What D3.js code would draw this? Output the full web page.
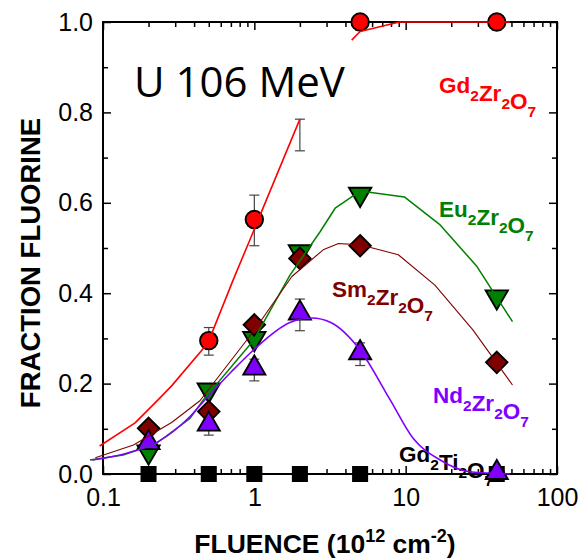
<!DOCTYPE html>
<html>
<head>
<meta charset="utf-8">
<script src="https://cdn.jsdelivr.net/npm/d3@7"></script>
<style>
  html, body { margin: 0; padding: 0; background: #fff; }
  svg { display: block; }
</style>
</head>
<body>
<svg id="chart" width="582" height="558"></svg>
<script>
// ---- data -------------------------------------------------------------
// Fluence in units of 1e12 ions/cm^2, fraction of fluorite phase
const xTickValues = [0.1, 1, 10, 100];
const xTickLabels = ["0.1", "1", "10", "100"];
const yTickValues = [0, 0.2, 0.4, 0.6, 0.8, 1.0];
const yTickLabels = ["0.0", "0.2", "0.4", "0.6", "0.8", "1.0"];

// Gd2Zr2O7 (measured points)
const gdZrFluence = [0.5, 1, 5, 40];
const gdZrFrac = [0.295, 0.563, 1.0, 1.0];
// Gd2Zr2O7 error bars
const gdZrErrFluence = [0.5, 1, 2, 5, 40];
const gdZrErrLow = [0.263, 0.505, 0.715, 0.982, 0.982];
const gdZrErrHigh = [0.324, 0.617, 0.785, 1.0, 1.0];
// Gd2Zr2O7 model curve (two branches)
const gdZrFitA = [[0.095, 0.062], [0.163, 0.113], [0.231, 0.164], [0.284, 0.195], [0.494, 0.29], [0.726, 0.43], [0.94, 0.52], [1.2, 0.606], [2.0, 0.785]];
const gdZrFitB = [[4.4, 0.96], [5, 0.979], [9.1, 1.0], [49, 1.0]];

// Eu2Zr2O7
const euZrFluence = [0.2, 0.5, 1, 2, 5, 40];
const euZrFrac = [0.049, 0.186, 0.30, 0.492, 0.619, 0.392];
const euZrFit = [[0.082, 0.031], [0.136, 0.042], [0.226, 0.068], [0.376, 0.123], [0.46, 0.164], [0.99, 0.296], [1.72, 0.44], [2.72, 0.536], [3.42, 0.588], [5, 0.626], [9.8, 0.613], [16.9, 0.551], [29.6, 0.459], [50.8, 0.337]];

// Sm2Zr2O7
const smZrFluence = [0.2, 0.5, 1, 2, 5, 40];
const smZrFrac = [0.101, 0.138, 0.33, 0.477, 0.505, 0.247];
const smZrFit = [[0.089, 0.036], [0.159, 0.064], [0.284, 0.114], [0.437, 0.162], [1.0, 0.318], [1.77, 0.437], [2.85, 0.496], [3.6, 0.51], [5, 0.507], [8.94, 0.485], [15.6, 0.418], [27.8, 0.319], [50.8, 0.197]];

// Nd2Zr2O7
const ndZrFluence = [0.2, 0.5, 1, 2, 5, 40];
const ndZrFrac = [0.069, 0.11, 0.234, 0.356, 0.268, 0.003];
const ndZrErrFluence = [0.5, 1, 2, 5];
const ndZrErrLow = [0.086, 0.206, 0.317, 0.24];
const ndZrErrHigh = [0.134, 0.254, 0.387, 0.29];
const ndZrFit = [[0.085, 0.031], [0.14, 0.045], [0.23, 0.071], [0.37, 0.125], [0.46, 0.16], [0.7, 0.225], [1.0, 0.276], [1.72, 0.335], [2.4, 0.345], [3.2, 0.335], [5, 0.274], [7.9, 0.164], [11.2, 0.079], [16.9, 0.031], [26.4, 0.005], [49, 0.0]];

// Gd2Ti2O7
const gdTiFluence = [0.2, 0.5, 1, 2, 5, 40];
const gdTiFrac = [0, 0, 0, 0, 0, 0];

// ---- layout -----------------------------------------------------------
const svg = d3.select("#chart");
const L = 103, R = 557, T = 22, B = 474;

const x = d3.scaleLog().domain([0.1, 100]).range([L, R]);
const y = d3.scaleLinear().domain([0, 1]).range([B, T]);

const tickFont = "'Liberation Sans', Arial, sans-serif";
const labelFont = "'Liberation Sans', Arial, sans-serif";
const COL = { red: "#ff0000", green: "#008000", sm: "#800000", nd: "#8000ff" };

// minor tick positions
const xMinor = [];
[0.1, 1, 10].forEach(d => { for (let k = 2; k <= 9; k++) xMinor.push(d * k); });
const yMinor = [0.1, 0.3, 0.5, 0.7, 0.9];

function styleAxis(g) {
  g.select(".domain").remove();
  g.selectAll(".tick line").attr("stroke", "#000").attr("stroke-width", 1.5);
  g.selectAll(".tick text").attr("font-family", tickFont).attr("font-size", 25).attr("fill", "#000");
}

// bottom axis with labels (ticks point inward)
svg.append("g").attr("transform", `translate(0,${B})`)
  .call(d3.axisBottom(x).tickValues(xTickValues).tickFormat((d, i) => xTickLabels[i]).tickSizeInner(-8).tickSizeOuter(0).tickPadding(14))
  .call(styleAxis);
svg.append("g").attr("transform", `translate(0,${B})`)
  .call(d3.axisBottom(x).tickValues(xMinor).tickFormat("").tickSizeInner(-5).tickSizeOuter(0))
  .call(styleAxis);
// top axis
svg.append("g").attr("transform", `translate(0,${T})`)
  .call(d3.axisTop(x).tickValues(xTickValues).tickFormat("").tickSizeInner(-8).tickSizeOuter(0))
  .call(styleAxis);
svg.append("g").attr("transform", `translate(0,${T})`)
  .call(d3.axisTop(x).tickValues(xMinor).tickFormat("").tickSizeInner(-5).tickSizeOuter(0))
  .call(styleAxis);
// left axis with labels
svg.append("g").attr("transform", `translate(${L},0)`)
  .call(d3.axisLeft(y).tickValues(yTickValues).tickFormat((d, i) => yTickLabels[i]).tickSizeInner(-8).tickSizeOuter(0).tickPadding(10))
  .call(styleAxis);
svg.append("g").attr("transform", `translate(${L},0)`)
  .call(d3.axisLeft(y).tickValues(yMinor).tickFormat("").tickSizeInner(-5).tickSizeOuter(0))
  .call(styleAxis);
// right axis
svg.append("g").attr("transform", `translate(${R},0)`)
  .call(d3.axisRight(y).tickValues(yTickValues).tickFormat("").tickSizeInner(-8).tickSizeOuter(0))
  .call(styleAxis);
svg.append("g").attr("transform", `translate(${R},0)`)
  .call(d3.axisRight(y).tickValues(yMinor).tickFormat("").tickSizeInner(-5).tickSizeOuter(0))
  .call(styleAxis);

// ---- series labels (drawn beneath the marks) -------------------------------
// chemical formula: each part is [element, subscript]
function formula(parts, px, py, color) {
  const t = svg.append("text").attr("x", px).attr("y", py)
    .attr("font-family", labelFont).attr("font-weight", "bold").attr("font-size", 22.5).attr("fill", color);
  parts.forEach(([el, sub]) => {
    t.append("tspan").text(el);
    t.append("tspan").attr("font-size", 15.5).attr("dy", 8).text(sub);
    t.append("tspan").attr("dy", -8).text("");
  });
}
formula([["Gd", "2"], ["Zr", "2"], ["O", "7"]], 439, 93, COL.red);
formula([["Eu", "2"], ["Zr", "2"], ["O", "7"]], 439, 217, COL.green);
formula([["Sm", "2"], ["Zr", "2"], ["O", "7"]], 332, 297, COL.sm);
formula([["Nd", "2"], ["Zr", "2"], ["O", "7"]], 433, 403, COL.nd);
formula([["Gd", "2"], ["Ti", "2"], ["O", "7"]], 399, 462, "#000");

// frame
svg.append("rect").attr("x", L).attr("y", T).attr("width", R - L).attr("height", B - T)
  .attr("fill", "none").attr("stroke", "#000").attr("stroke-width", 2);

// ---- error bars ---------------------------------------------------------
function errorBars(xs, lo, hi) {
  const g = svg.append("g").attr("stroke", "#444").attr("stroke-width", 1.2).attr("fill", "none");
  xs.forEach((xv, i) => {
    const cx = x(xv);
    g.append("line").attr("x1", cx).attr("x2", cx).attr("y1", y(lo[i])).attr("y2", y(hi[i]));
    g.append("line").attr("x1", cx - 5).attr("x2", cx + 5).attr("y1", y(lo[i])).attr("y2", y(lo[i]));
    g.append("line").attr("x1", cx - 5).attr("x2", cx + 5).attr("y1", y(hi[i])).attr("y2", y(hi[i]));
  });
}
errorBars(gdZrErrFluence, gdZrErrLow, gdZrErrHigh);
errorBars(ndZrErrFluence, ndZrErrLow, ndZrErrHigh);

// ---- markers --------------------------------------------------------------
function markers(xs, ys, type, size, fill) {
  svg.append("g").selectAll("path").data(xs).join("path")
    .attr("transform", (d, i) => `translate(${x(d)},${y(ys[i])})`)
    .attr("d", d3.symbol().type(type).size(size))
    .attr("fill", fill).attr("stroke", "#000").attr("stroke-width", 1.9);
}
// inverted triangle symbol
const triangleDown = {
  draw(ctx, size) {
    const s = Math.sqrt(size / (Math.sqrt(3) / 4));
    const h = s * Math.sqrt(3) / 2;
    ctx.moveTo(-s / 2, -h / 3);
    ctx.lineTo(s / 2, -h / 3);
    ctx.lineTo(0, 2 * h / 3);
    ctx.closePath();
  }
};
const triangleUp = {
  draw(ctx, size) {
    const s = Math.sqrt(size / (Math.sqrt(3) / 4));
    const h = s * Math.sqrt(3) / 2;
    ctx.moveTo(-s / 2, h / 3);
    ctx.lineTo(s / 2, h / 3);
    ctx.lineTo(0, -2 * h / 3);
    ctx.closePath();
  }
};
const diamond = {
  draw(ctx, size) {
    const r = Math.sqrt(size / 2);
    ctx.moveTo(0, -r); ctx.lineTo(r, 0); ctx.lineTo(0, r); ctx.lineTo(-r, 0); ctx.closePath();
  }
};

markers(gdTiFluence, gdTiFrac, d3.symbolSquare, 200, "#000");
markers(gdZrFluence, gdZrFrac, d3.symbolCircle, 240, COL.red);
markers(euZrFluence, euZrFrac, triangleDown, 215, COL.green);
markers(smZrFluence, smZrFrac, diamond, 230, COL.sm);
markers(ndZrFluence, ndZrFrac, triangleUp, 210, COL.nd);

// ---- model curves --------------------------------------------------------
const lineLin = d3.line().x(d => x(d[0])).y(d => y(d[1]));
const lineSmooth = d3.line().x(d => x(d[0])).y(d => y(d[1])).curve(d3.curveMonotoneX);
function curve(data, color, width, gen) {
  svg.append("path").datum(data).attr("d", gen).attr("fill", "none")
    .attr("stroke", color).attr("stroke-width", width).attr("stroke-linejoin", "round");
}
curve(gdZrFitA, COL.red, 1.6, lineLin);
curve(gdZrFitB, COL.red, 1.6, lineLin);
curve(euZrFit, COL.green, 1.5, lineLin);
curve(smZrFit, COL.sm, 1.1, lineLin);
curve(ndZrFit, COL.nd, 1.6, lineSmooth);

// ---- titles ---------------------------------------------------------------
// run title
svg.append("text").attr("x", 134).attr("y", 97)
  .attr("font-family", "'Open Sans', sans-serif").attr("font-size", 42).attr("fill", "#000")
  .text("U 106 MeV");

// x axis title
const xt = svg.append("text").attr("x", 325).attr("y", 553).attr("text-anchor", "middle")
  .attr("font-family", labelFont).attr("font-weight", "bold").attr("font-size", 26.5).attr("fill", "#000");
xt.append("tspan").text("FLUENCE (10");
xt.append("tspan").attr("font-size", 18).attr("dy", -11).text("12");
xt.append("tspan").attr("dy", 11).text(" cm");
xt.append("tspan").attr("font-size", 18).attr("dy", -11).text("-2");
xt.append("tspan").attr("dy", 11).text(")");

// y axis title
svg.append("text").attr("transform", "translate(40,263) rotate(-90)").attr("text-anchor", "middle")
  .attr("font-family", labelFont).attr("font-weight", "bold").attr("font-size", 27.5).attr("fill", "#000")
  .text("FRACTION FLUORINE");
</script>
</body>
</html>
